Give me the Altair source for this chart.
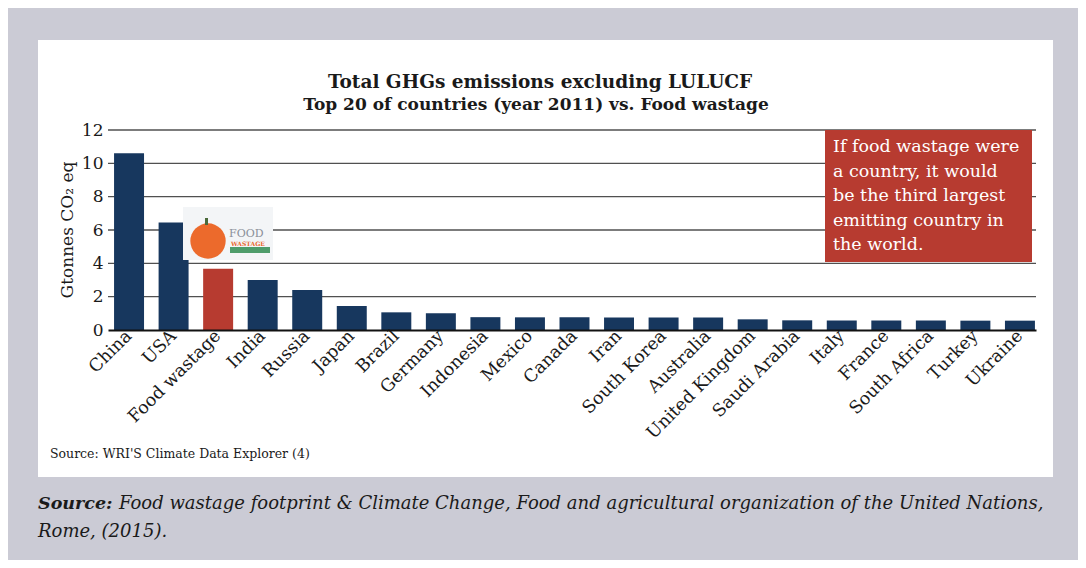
import altair as alt
import pandas as pd

countries = ["China", "USA", "Food wastage", "India", "Russia", "Japan", "Brazil",
             "Germany", "Indonesia", "Mexico", "Canada", "Iran", "South Korea",
             "Australia", "United Kingdom", "Saudi Arabia", "Italy", "France",
             "South Africa", "Turkey", "Ukraine"]
values = [10.6, 6.45, 3.68, 3.0, 2.4, 1.44, 1.06, 1.0, 0.77, 0.76, 0.76, 0.75,
          0.75, 0.75, 0.64, 0.58, 0.57, 0.57, 0.57, 0.56, 0.56]
kinds = ["Country", "Country", "Food wastage"] + ["Country"] * 18
y_ticks = [0, 2, 4, 6, 8, 10, 12]

title_text = "Total GHGs emissions excluding LULUCF"
subtitle_text = "Top 20 of countries (year 2011) vs. Food wastage"
y_title = "Gtonnes CO\u2082 eq"
note_lines = ["If food wastage were", "a country, it would", "be the third largest",
              "emitting country in", "the world."]
inner_source = "Source: WRI'S Climate Data Explorer (4)"
outer_source_bold = "Source:"
outer_source_1 = "Food wastage footprint & Climate Change, Food and agricultural organization of the United Nations,"
outer_source_2 = "Rome, (2015)."

NAVY = "#17375e"
RED = "#b73b30"
GREY_BG = "#cbcbd5"
FONT = "DejaVu Serif"

W, H = 928, 200

df = pd.DataFrame({"country": countries, "value": values, "kind": kinds})
grid_df = pd.DataFrame({"tick": y_ticks[1:]})
one = pd.DataFrame({"a": [0]})

yscale = alt.Scale(domain=[0, 12], nice=False)


def y_axis():
    return alt.Axis(values=y_ticks, grid=False, domain=False, ticks=False,
                    labelFont=FONT, labelFontSize=17, labelColor="#1a1a1a",
                    labelPadding=5, zindex=1, title=None)


def box(color, x, x2, y, y2, **kw):
    return alt.Chart(one).mark_rect(color=color, **kw).encode(
        x=alt.value(x), x2=alt.value(x2), y=alt.value(y), y2=alt.value(y2))


def label(text, x, y, size, **kw):
    params = dict(font=FONT, fontSize=size, color="#1a1a1a", align="left", baseline="alphabetic")
    params.update(kw)
    return alt.Chart(one).mark_text(**params).encode(
        x=alt.value(x), y=alt.value(y), text=alt.value(text))


bg = box(GREY_BG, -100, 970, -122, 430)
panel = box("white", -70, 945, -90, 347)

grid = alt.Chart(grid_df).mark_rule(color="#505050", strokeWidth=1.4).encode(
    y=alt.Y("tick:Q", scale=yscale, axis=y_axis(), title=None),
    x=alt.value(0), x2=alt.value(W))

bars = alt.Chart(df).mark_bar().encode(
    x=alt.X("country:N", sort=countries, title=None,
            scale=alt.Scale(paddingInner=0.327, paddingOuter=0.08, align=0.85),
            axis=alt.Axis(labelAngle=-45, labelAlign="right", labelBaseline="middle",
                          labelFont=FONT, labelFontSize=17.5, labelColor="#1a1a1a",
                          labelPadding=3, ticks=False, domainColor="#111111",
                          domainWidth=2, zindex=1, labelOverlap=False)),
    y=alt.Y("value:Q", scale=yscale, title=None, axis=y_axis()),
    color=alt.Color("kind:N", legend=None,
                    scale=alt.Scale(domain=["Country", "Food wastage"], range=[NAVY, RED])),
)

# Food wastage logo (approximation)
logo_bg = box("#f3f5f7", 75, 165, 77, 130)
logo_circle = alt.Chart(one).mark_point(shape="circle", filled=True, color="#ec6a2c", opacity=1, size=1250).encode(
    x=alt.value(100), y=alt.value(111))
logo_stem = box("#4a6a3a", 97, 100, 88, 95)
logo_food = label("FOOD", 121, 107, 11, color="#8a8f99", fontWeight="normal")
logo_wast = label("WASTAGE", 123, 116, 6, color="#e8672c", fontWeight="bold")
logo_bar = box("#4e9c6b", 122, 162, 117, 123)

note_box = box(RED, 717, 924, 0, 132)
note_text = alt.Chart(one).mark_text(font=FONT, fontSize=17.5, color="white", align="left",
                                     baseline="alphabetic", lineHeight=24.5).encode(
    x=alt.value(725), y=alt.value(22), text=alt.value(note_lines))

title = label(title_text, 432, -42, 18.5, align="center", fontWeight="bold")
subtitle = label(subtitle_text, 428, -20, 17, align="center", fontWeight="bold")
ytitle = label(y_title, -40, 100, 17, align="center", baseline="middle", angle=270)
src_in = label(inner_source, -58, 328, 12.5)
src_b = label(outer_source_bold, -70, 379, 17.5, fontStyle="italic", fontWeight="bold")
src_1 = label(outer_source_1, 11, 379, 18, fontStyle="italic")
src_2 = label(outer_source_2, -70, 407, 18, fontStyle="italic")

chart = alt.layer(
    bg, panel, grid, bars, logo_bg, logo_circle, logo_stem, logo_food, logo_wast, logo_bar,
    note_box, note_text, title, subtitle, ytitle, src_in, src_b, src_1, src_2
).properties(
    width=W, height=H,
    autosize=alt.AutoSizeParams(type="none"),
    padding={"left": 108, "top": 130, "right": 50, "bottom": 238},
).configure_view(stroke=None).configure(background="white")

chart.save("out.html", embed_options={"renderer": "svg", "actions": False})
